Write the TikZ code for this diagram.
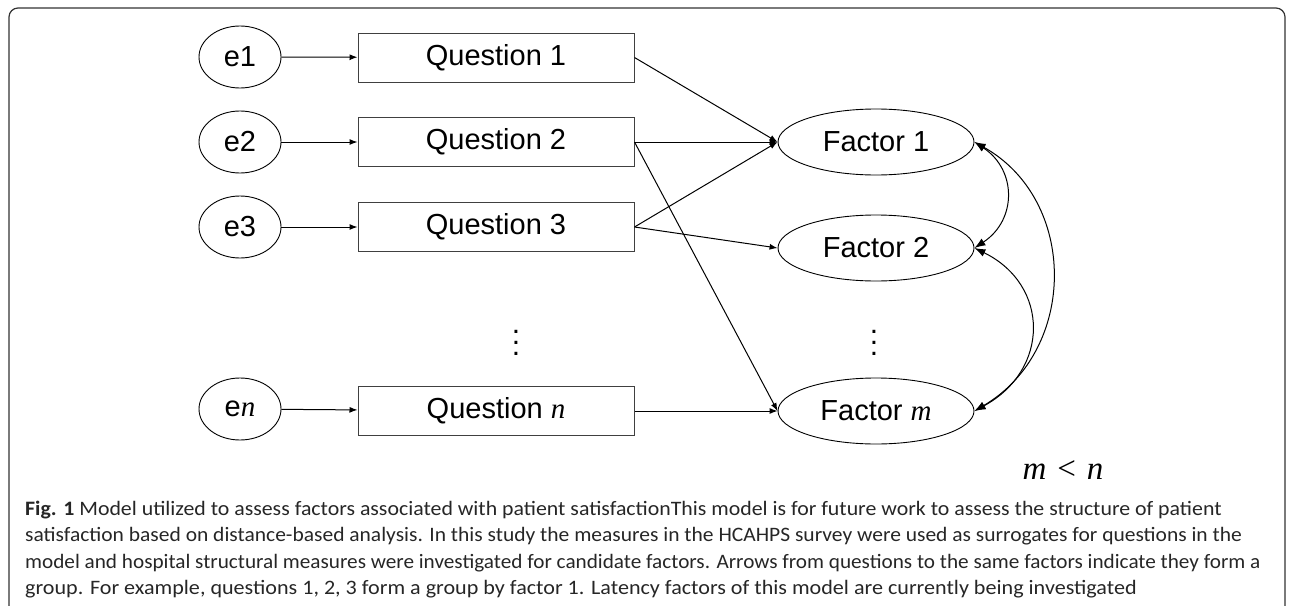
\documentclass[tikz,border=0pt]{standalone}
\usepackage{fontspec}
\usepackage{graphicx}
\setmainfont{Liberation Sans}
\newfontfamily\capfont{Carlito}
\newfontfamily\serifit{Liberation Serif}
\usetikzlibrary{shapes.geometric,arrows.meta}
\begin{document}
\begin{tikzpicture}[x=1pt,y=-1pt,
  errnode/.style={draw,ellipse,line width=0.9pt,minimum width=82pt,minimum height=62pt,inner sep=0pt,font=\fontsize{29}{34}\selectfont},
  qbox/.style={draw=black!75,rectangle,line width=1pt,minimum width=276pt,minimum height=49pt,inner sep=0pt,font=\fontsize{29}{34}\selectfont},
  fnode/.style={draw,ellipse,line width=0.9pt,minimum width=196pt,minimum height=66pt,inner sep=0pt,font=\fontsize{29}{34}\selectfont},
  arr/.style={line width=1pt,-{Latex[length=8pt,width=6pt]}},
  darr/.style={line width=1pt,{Latex[length=11pt,width=8pt]}-{Latex[length=11pt,width=8pt]}},
  captxt/.style={anchor=base west,inner sep=0pt,font=\capfont\fontsize{20.5}{24}\selectfont,text=black!85},
  vdotsnode/.style={inner sep=0pt,align=center,font=\fontsize{30}{11}\selectfont}
]
\useasboundingbox (0,0) rectangle (1290,605);
% frame
\draw[black!80,line width=1.2pt,rounded corners=9pt] (9,606) -- (9,8) -- (1285,8) -- (1285,606);

% error nodes
\node[errnode] (e1) at (240,57) {e1};
\node[errnode] (e2) at (240,142) {e2};
\node[errnode] (e3) at (240,227) {e3};
\node[errnode] (en) at (240,409) {e{\serifit\itshape n}};

% question boxes
\node[qbox] (q1) at (496,57.5) {Question 1};
\node[qbox] (q2) at (496,142) {Question 2};
\node[qbox] (q3) at (496,227) {Question 3};
\node[qbox] (qn) at (496,411) {Question {\serifit\itshape n}};
\node[vdotsnode] (qd) at (516,343) {.\\.\\.};

% factor nodes
\node[fnode] (f1) at (876,142) {Factor 1};
\node[fnode] (f2) at (876,248) {Factor 2};
\node[fnode] (fm) at (876,411) {Factor {\serifit\itshape m}};
\node[vdotsnode] (fd) at (874,343) {.\\.\\.};

\node[inner sep=0pt,font=\serifit\fontsize{33}{38}\selectfont] (mn) at (1063,470) {\textit{m}\hspace{11pt}<\hspace{11pt}\textit{n}};

% arrows e -> q
\draw[arr] (e1) -- (q1);
\draw[arr] (e2) -- (q2);
\draw[arr] (e3) -- (q3);
\draw[arr] (en) -- (qn);

% q -> f
\draw[arr] (q1.east) -- (f1.west);
\draw[arr] (q2.east) -- (f1.west);
\draw[arr] (q2.east) -- (fm.west);
\draw[arr] (q3.east) -- (f1.west);
\draw[arr] (q3.east) -- (f2.west);
\draw[arr] (qn.east) -- (fm.west);

% covariances
\draw[darr] (f1.east) .. controls (1017,170) and (1017,220) .. (f2.east);
\draw[darr] (f1.east) .. controls (1078,200) and (1078,350) .. (fm.east);
\draw[darr] (f2.east) .. controls (1050,285) and (1050,370) .. (fm.east);

% caption
\node[captxt] (c1) at (25,515) {\scalebox{1.065}[1]{\textbf{Fig. 1} Model utilized to assess factors associated with patient satisfactionThis model is for future work to assess the structure of patient}};
\node[captxt] (c2) at (25,541.5) {\scalebox{1.049}[1]{satisfaction based on distance-based analysis. In this study the measures in the HCAHPS survey were used as surrogates for questions in the}};
\node[captxt] (c3) at (25,568) {\scalebox{1.035}[1]{model and hospital structural measures were investigated for candidate factors. Arrows from questions to the same factors indicate they form a}};
\node[captxt] (c4) at (25,594.5) {\scalebox{1.078}[1]{group. For example, questions 1, 2, 3 form a group by factor 1. Latency factors of this model are currently being investigated}};
\end{tikzpicture}
\end{document}
